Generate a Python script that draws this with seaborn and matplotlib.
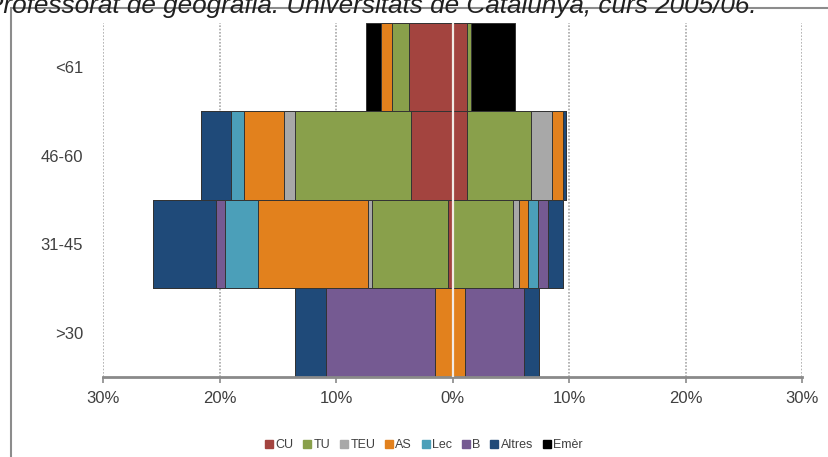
import pandas as pd
import matplotlib.pyplot as plt
from matplotlib.lines import Line2D
import seaborn as sb

# franges d'edat (de dalt a baix)
ages = ['<61', '46-60', '31-45', '>30']
types = ['CU', 'TU', 'TEU', 'AS', 'Lec', 'B', 'Altres', 'Emèr']
colors = ['#A3443F', '#89A04B', '#A8A8A8', '#E2811D', '#4B9FB9', '#755A92', '#1F4A79', '#000000']

# percentatges costat esquerre (per categoria, ordre de ages)
left_cu = [3.7, 3.6, 0.4, 0.0]
left_tu = [1.5, 9.9, 6.5, 0.0]
left_teu = [0.0, 1.0, 0.4, 0.0]
left_as = [0.9, 3.4, 9.4, 1.5]
left_lec = [0.0, 1.1, 2.8, 0.0]
left_b = [0.0, 0.0, 0.8, 9.4]
left_altres = [0.0, 2.6, 5.4, 2.6]
left_emer = [1.3, 0.0, 0.0, 0.0]

# percentatges costat dret
right_cu = [1.2, 1.2, 0.0, 0.0]
right_tu = [0.35, 5.5, 5.2, 0.0]
right_teu = [0.0, 1.8, 0.5, 0.0]
right_as = [0.0, 0.95, 0.8, 1.1]
right_lec = [0.0, 0.0, 0.85, 0.0]
right_b = [0.0, 0.0, 0.8, 5.0]
right_altres = [0.0, 0.3, 1.3, 1.3]
right_emer = [3.85, 0.0, 0.0, 0.0]

xticks = [-30, -20, -10, 0, 10, 20, 30]
xtick_labels = ['30%', '20%', '10%', '0%', '10%', '20%', '30%']
title = 'Professorat de geografia. Universitats de Catalunya, curs 2005/06.'

sb.set_style('white')
plt.rcParams['font.family'] = ['Liberation Sans', 'DejaVu Sans']

left = pd.DataFrame(dict(zip(types, [left_cu, left_tu, left_teu, left_as, left_lec,
                                     left_b, left_altres, left_emer])), index=ages)
right = pd.DataFrame(dict(zip(types, [right_cu, right_tu, right_teu, right_as, right_lec,
                                      right_b, right_altres, right_emer])), index=ages)

fig = plt.figure(figsize=(8.29, 4.57), dpi=100)
ax = fig.add_axes([0.1243, 0.175, 0.8432, 0.775])

for sign, df in [(-1, left), (1, right)]:
    cum = df.cumsum(axis=1)
    # de fora cap a dins, perque les barres interiors quedin a sobre
    for t, c in reversed(list(zip(types, colors))):
        sb.barplot(x=sign * cum[t].values, y=ages, order=ages, orient='h', color=c,
                   saturation=1, width=1.0, errorbar=None, edgecolor='#333333',
                   linewidth=0.7, ax=ax)

ax.axvline(0, color='#f2ebe4', lw=1.6, zorder=5)
ax.set_xlim(-30, 30)
ax.set_ylim(3.5, -0.5)
ax.set_xticks(xticks)
ax.set_xticklabels(xtick_labels)
ax.xaxis.grid(True, color='#a8a8a8', linestyle=(0, (1, 1)), linewidth=1.2)
ax.set_axisbelow(True)
ax.set(xlabel='', ylabel='')
for s in ['top', 'right', 'left']:
    ax.spines[s].set_visible(False)
ax.spines['bottom'].set_color('#8a8a8a')
ax.spines['bottom'].set_linewidth(2)
ax.tick_params(axis='x', bottom=True, length=4, width=1.2, color='#8a8a8a',
               labelsize=12, labelcolor='#404040', pad=6)
ax.tick_params(axis='y', left=False, labelsize=12, labelcolor='#404040', pad=11)

handles = [Line2D([], [], marker='s', linestyle='', color=c, markersize=6) for c in colors]
fig.legend(handles, types, loc='center', bbox_to_anchor=(0.51, 0.026), ncol=8,
           frameon=False, fontsize=9, handletextpad=0.0, columnspacing=0.6,
           handlelength=1.0, labelcolor='#404040')

# marc exterior
fig.add_artist(Line2D([11 / 829, 1], [1 - 8 / 457, 1 - 8 / 457], color='#8c8c8c', lw=1.5))
fig.add_artist(Line2D([11 / 829, 11 / 829], [0, 1 - 8 / 457], color='#8c8c8c', lw=1.5))

fig.text(-0.017, 1 - 13 / 457, title, fontsize=18.8, style='italic', va='baseline',
         color='#202020')

fig.savefig('out.png', dpi=100)
